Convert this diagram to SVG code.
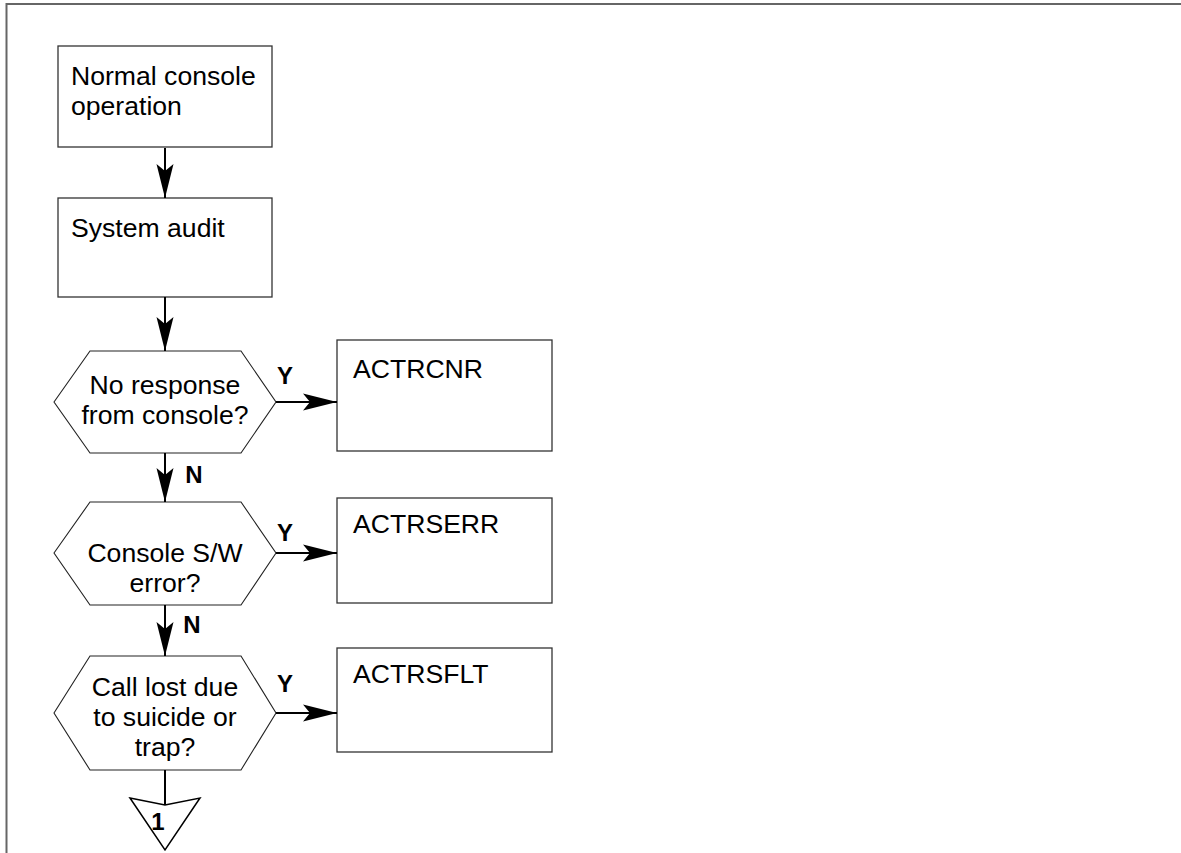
<svg xmlns="http://www.w3.org/2000/svg" width="1181" height="853" viewBox="0 0 1181 853">
<defs>
<style>
.box{fill:#fff;stroke:#333;stroke-width:1.3}
.hex{fill:#fff;stroke:#222;stroke-width:1.1}
.t{font-family:"Liberation Sans",Arial,sans-serif;font-size:26.6px;fill:#000}
.c{text-anchor:middle}
.lb{font-family:"Liberation Sans",Arial,sans-serif;font-size:24px;font-weight:bold;fill:#000}
.ln{stroke:#000;stroke-width:2;fill:none}
.frame{stroke:#666;stroke-width:2;fill:none}
</style>
<marker id="ah" markerUnits="userSpaceOnUse" markerWidth="40" markerHeight="24" viewBox="-36 -12 38 24" refX="0" refY="0" orient="auto">
<path d="M0,0 L-34,-8.5 L-27,0 L-34,8.5 Z" fill="#000"/>
</marker>
</defs>
<rect width="1181" height="853" fill="#fff"/>
<path class="frame" d="M6.5,853 L6.5,4 L1181,4"/>

<g id="n1">
<rect class="box" x="58" y="46" width="214" height="101"/>
<text class="t" x="71" y="85">Normal console</text>
<text class="t" x="71" y="115">operation</text>
</g>
<g id="n2">
<rect class="box" x="58" y="198" width="214" height="99"/>
<text class="t" x="71" y="237">System audit</text>
</g>
<g id="d1">
<polygon class="hex" points="54,402 90,351 241,351 276,402 241,453 90,453"/>
<text class="t c" x="165" y="394">No response</text>
<text class="t c" x="165" y="424">from console?</text>
</g>
<g id="d2">
<polygon class="hex" points="54,553 90,502 241,502 276,553 241,605 90,605"/>
<text class="t c" x="165" y="562">Console S/W</text>
<text class="t c" x="165" y="592">error?</text>
</g>
<g id="d3">
<polygon class="hex" points="54,713 90,656 241,656 276,713 241,770 90,770"/>
<text class="t c" x="165" y="696">Call lost due</text>
<text class="t c" x="165" y="726">to suicide or</text>
<text class="t c" x="165" y="756">trap?</text>
</g>
<g id="b1">
<rect class="box" x="337" y="340" width="215" height="111"/>
<text class="t" x="353" y="378">ACTRCNR</text>
</g>
<g id="b2">
<rect class="box" x="337" y="498" width="215" height="105"/>
<text class="t" x="353" y="533">ACTRSERR</text>
</g>
<g id="b3">
<rect class="box" x="337" y="648" width="215" height="104"/>
<text class="t" x="353" y="683">ACTRSFLT</text>
</g>
<g id="off1">
<polygon class="hex" points="130,798 165,805 200,798 165,850" style="stroke:#000;stroke-width:1.5"/>
<text class="lb" x="158" y="830" text-anchor="middle">1</text>
</g>

<g id="connectors">
<line class="ln" x1="165" y1="148" x2="165" y2="198" marker-end="url(#ah)"/>
<line class="ln" x1="165" y1="297" x2="165" y2="351" marker-end="url(#ah)"/>
<line class="ln" x1="165" y1="453" x2="165" y2="502" marker-end="url(#ah)"/>
<line class="ln" x1="165" y1="605" x2="165" y2="656" marker-end="url(#ah)"/>
<line class="ln" x1="165" y1="770" x2="165" y2="805"/>
<line class="ln" x1="276" y1="402" x2="337" y2="402" marker-end="url(#ah)"/>
<line class="ln" x1="276" y1="553" x2="337" y2="553" marker-end="url(#ah)"/>
<line class="ln" x1="276" y1="713" x2="337" y2="713" marker-end="url(#ah)"/>
<text class="lb" x="285" y="384" text-anchor="middle">Y</text>
<text class="lb" x="285" y="541" text-anchor="middle">Y</text>
<text class="lb" x="285" y="692" text-anchor="middle">Y</text>
<text class="lb" x="194" y="483" text-anchor="middle">N</text>
<text class="lb" x="192" y="633" text-anchor="middle">N</text>
</g>
</svg>
